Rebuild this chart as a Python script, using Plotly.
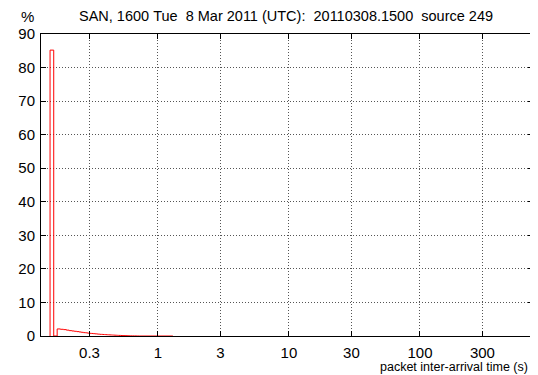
import plotly.graph_objects as go

# histogram bins: start of each bin (s) and percentage of packets
bin_start = [0.15, 0.16, 0.17, 0.18, 0.19, 0.20, 0.21, 0.22, 0.23, 0.24,
             0.25, 0.26, 0.27, 0.28, 0.29, 0.30, 0.31, 0.32, 0.33, 0.34,
             0.35, 0.36, 0.37, 0.38, 0.39, 0.40, 0.41, 0.42, 0.43, 0.44,
             0.45, 0.46, 0.47, 0.48, 0.49, 0.50, 0.52, 0.54, 0.56, 0.58,
             0.60, 0.62, 0.64, 0.66, 0.68, 0.70, 0.72]
pct = [85.2, 0.0, 2.1, 2.0, 1.9, 1.75, 1.6, 1.5, 1.4, 1.3,
       1.2, 1.1, 1.0, 0.95, 0.85, 0.8, 0.75, 0.7, 0.65, 0.6,
       0.55, 0.5, 0.48, 0.45, 0.42, 0.4, 0.37, 0.35, 0.32, 0.3,
       0.28, 0.26, 0.24, 0.22, 0.2, 0.18, 0.15, 0.12, 0.1, 0.08,
       0.06, 0.05, 0.04, 0.03, 0.02, 0.01, 0.0]
last_edge = 1.3

x_ticks = [0.3, 1, 3, 10, 30, 100, 300]
x_tick_text = ["0.3", "1", "3", "10", "30", "100", "300"]
y_ticks = [0, 10, 20, 30, 40, 50, 60, 70, 80, 90]

title = "SAN, 1600 Tue  8 Mar 2011 (UTC):  20110308.1500  source 249".replace(" ", "\u00a0")

xs = [bin_start[0]] + bin_start + [last_edge]
ys = [0] + pct + [0]

fig = go.Figure()
fig.add_trace(go.Scatter(x=xs, y=ys, mode="lines", line=dict(color="#ff0000", width=1, shape="hv"),
                         showlegend=False, hoverinfo="skip"))

font = "Liberation Sans, Arial, Helvetica, sans-serif"
axis_common = dict(showline=True, linecolor="black", linewidth=1, mirror="ticks",
                   ticks="inside", ticklen=5, tickcolor="black",
                   showgrid=True, gridcolor="#555555", griddash="1px,2px", gridwidth=1,
                   zeroline=False, tickfont=dict(family=font, size=15, color="black"))

# page body has an 8px margin, so the figure is shrunk and shifted accordingly
fig.update_layout(
    width=530, height=367,
    margin=dict(l=33, r=5, t=26, b=39),
    paper_bgcolor="white", plot_bgcolor="white",
    font=dict(family=font, color="black"),
    xaxis=dict(type="log", range=[-0.893, 2.863], tickvals=x_ticks, ticktext=x_tick_text,
               ticklabelstandoff=3, **axis_common),
    yaxis=dict(range=[0, 90], tickvals=y_ticks, ticklabelstandoff=2, **axis_common),
    annotations=[
        dict(text=title, xref="paper", yref="paper", x=0.497, y=1, yshift=18,
             xanchor="center", yanchor="middle", showarrow=False,
             font=dict(family=font, size=14.5, color="black")),
        dict(text="%", xref="paper", yref="paper", x=0, xshift=-14, y=1, yshift=18,
             xanchor="center", yanchor="middle", showarrow=False,
             font=dict(family=font, size=15, color="black")),
        dict(text="packet inter-arrival time (s)", xref="paper", yref="paper", x=1, xshift=-3,
             y=0, yshift=-31, xanchor="right", yanchor="middle", showarrow=False,
             font=dict(family=font, size=12.5, color="black")),
    ],
)

fig.write_html("out.html")
